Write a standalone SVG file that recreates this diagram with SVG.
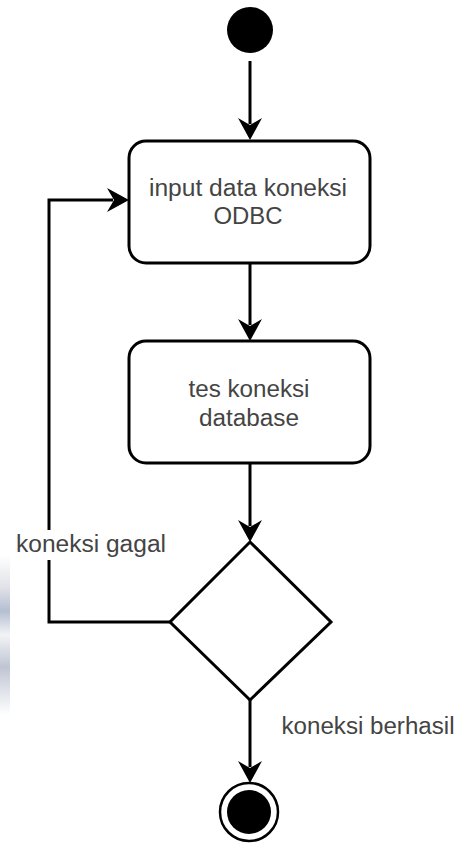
<svg xmlns="http://www.w3.org/2000/svg" width="461" height="843" viewBox="0 0 461 843">
  <defs>
    <marker id="arrow" markerUnits="userSpaceOnUse" viewBox="-24 -13 26 26" markerWidth="26" markerHeight="26" refX="-16" refY="0" orient="auto">
      <path d="M0,0 L-22,-12 L-15,0 L-22,12 Z" fill="#000"/>
    </marker>
    <linearGradient id="smudge" x1="0" y1="0" x2="0" y2="1">
      <stop offset="0" stop-color="#ffffff"/>
      <stop offset="0.2" stop-color="#d4d7de"/>
      <stop offset="0.35" stop-color="#95a3bf"/>
      <stop offset="0.5" stop-color="#eceef2"/>
      <stop offset="0.7" stop-color="#a3acc0"/>
      <stop offset="1" stop-color="#ffffff"/>
    </linearGradient>
  </defs>
  <style>
    .node { fill: #fff; stroke: #000; stroke-width: 3; }
    .edge { fill: none; stroke: #000; stroke-width: 3; }
    .lbl { font-family: "Liberation Sans", Arial, sans-serif; font-size: 23px; fill: #444; text-anchor: middle; }
  </style>
  <rect width="461" height="843" fill="#fff"/>
  <rect x="0" y="555" width="10" height="160" fill="url(#smudge)" opacity="0.7"/>

  <g id="connectors">
    <path class="edge" d="M250,61 L250,124" marker-end="url(#arrow)"/>
    <path class="edge" d="M250,263 L250,325" marker-end="url(#arrow)"/>
    <path class="edge" d="M250,463 L250,526" marker-end="url(#arrow)"/>
    <path class="edge" d="M250,700 L250,767" marker-end="url(#arrow)"/>
    <path class="edge" d="M170,622 L49,622 L49,200 L113,200" marker-end="url(#arrow)"/>
    <g id="label-gagal">
      <rect x="14" y="530" width="153" height="30" fill="#fff"/>
      <text class="lbl" x="91" y="552" textLength="150" lengthAdjust="spacingAndGlyphs">koneksi gagal</text>
    </g>
    <text id="label-berhasil" class="lbl" x="368" y="734" textLength="173" lengthAdjust="spacingAndGlyphs">koneksi berhasil</text>
  </g>

  <g id="start">
    <circle cx="250" cy="30" r="23" fill="#000"/>
  </g>

  <g id="input-data">
    <rect class="node" x="129" y="141" width="241" height="122" rx="17" ry="17"/>
    <text class="lbl" x="248" y="196" textLength="198" lengthAdjust="spacingAndGlyphs">input data koneksi</text>
    <text class="lbl" x="248" y="224" textLength="69" lengthAdjust="spacingAndGlyphs">ODBC</text>
  </g>

  <g id="tes-koneksi">
    <rect class="node" x="129" y="341" width="241" height="122" rx="17" ry="17"/>
    <text class="lbl" x="249" y="397" textLength="121" lengthAdjust="spacingAndGlyphs">tes koneksi</text>
    <text class="lbl" x="249" y="426" textLength="100" lengthAdjust="spacingAndGlyphs">database</text>
  </g>

  <g id="decision">
    <polygon class="node" points="250,542 331,622 250,700 170,622"/>
  </g>

  <g id="end">
    <circle cx="249" cy="812" r="29" fill="#fff" stroke="#000" stroke-width="2.5"/>
    <circle cx="249" cy="812" r="22" fill="#000"/>
  </g>
</svg>
